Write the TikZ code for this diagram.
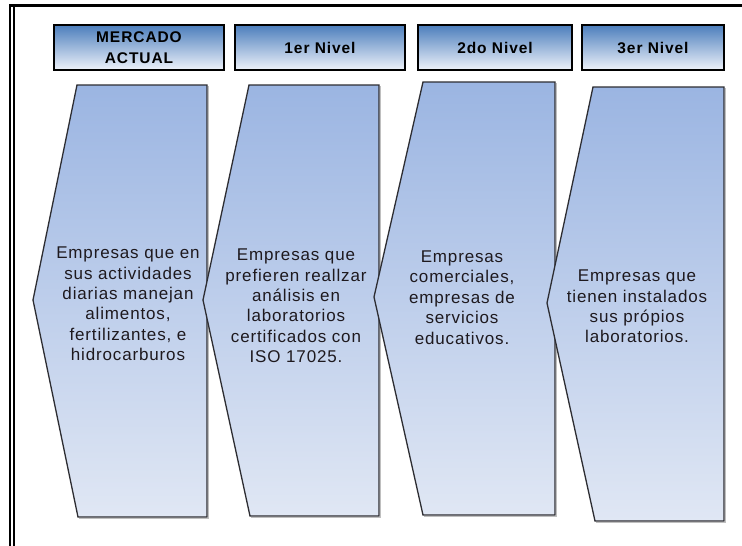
\documentclass[tikz,border=0pt]{standalone}
\usepackage{fontspec}
\setmainfont{Liberation Sans}
\newfontfamily\bodyfont[LetterSpace=5]{Liberation Sans}
\newfontfamily\headfont[LetterSpace=6]{Liberation Sans Bold}
\definecolor{hdtop}{RGB}{76,126,188}
\definecolor{hdbot}{RGB}{238,242,250}
\definecolor{chtop}{RGB}{155,181,226}
\definecolor{chbot}{RGB}{224,231,244}
\definecolor{txt}{RGB}{30,25,30}
\definecolor{edge}{RGB}{45,45,50}
\begin{document}
\begin{tikzpicture}[x=1pt,y=-1pt,
  header/.style={draw=black,line width=2pt,top color=hdtop,bottom color=hdbot,
    minimum height=45pt,inner sep=0pt,align=center,text=black,
    font=\headfont\fontsize{15.5}{21}\selectfont},
  chev/.style={draw=edge,line width=1.3pt,line join=miter,top color=chtop,bottom color=chbot},
  chevshadow/.style={draw=black!25,line width=1.5pt},
  chevtext/.style={align=center,text=txt,inner sep=0pt,
    font=\bodyfont\fontsize{17}{20.4}\selectfont}]
\useasboundingbox (0,0) rectangle (742,546);
\fill[white] (0,0) rectangle (742,546);
% frame
\draw[line width=3pt] (9,5.5) -- (742,5.5);
\draw[line width=2pt] (10,4) -- (10,546);
\draw[line width=2pt] (13.5,4) -- (13.5,546);
% headers
\node[header,minimum width=170pt] (h1) at (139,47.5) {MERCADO\\ACTUAL};
\node[header,minimum width=170pt] (h2) at (320,47.5) {1er Nivel};
\node[header,minimum width=154pt] (h3) at (495,47.5) {2do Nivel};
\node[header,minimum width=142pt] (h4) at (653,47.5) {3er Nivel};
% chevron shadows
\draw[chevshadow] (208.5,86) -- (208.5,518.5) -- (79,518.5);
\draw[chevshadow] (380.5,86) -- (380.5,517.5) -- (251,517.5);
\draw[chevshadow] (556.5,83) -- (556.5,516.5) -- (424,516.5);
\draw[chevshadow] (725.5,88) -- (725.5,522.5) -- (596,522.5);
% chevrons
\path[chev] (77,85) -- (207,85) -- (207,517) -- (78,517) -- (33,300) -- cycle;
\path[chev] (249,85) -- (379,85) -- (379,516) -- (250,516) -- (203,300) -- cycle;
\path[chev] (423,82) -- (555,82) -- (555,515) -- (423,515) -- (374,297) -- cycle;
\path[chev] (593,87) -- (724,87) -- (724,521) -- (595,521) -- (547,303) -- cycle;
% texts
\node[chevtext] (t1) at (128,304) {Empresas que en\\sus actividades\\diarias manejan\\alimentos,\\fertilizantes, e\\hidrocarburos};
\node[chevtext] (t2) at (296,306) {Empresas que\\prefieren reallzar\\análisis en\\laboratorios\\certificados con\\ISO 17025.};
\node[chevtext] (t3) at (462,297.5) {Empresas\\comerciales,\\empresas de\\servicios\\educativos.};
\node[chevtext] (t4) at (637,306.5) {Empresas que\\tienen instalados\\sus própios\\laboratorios.};
\end{tikzpicture}
\end{document}
